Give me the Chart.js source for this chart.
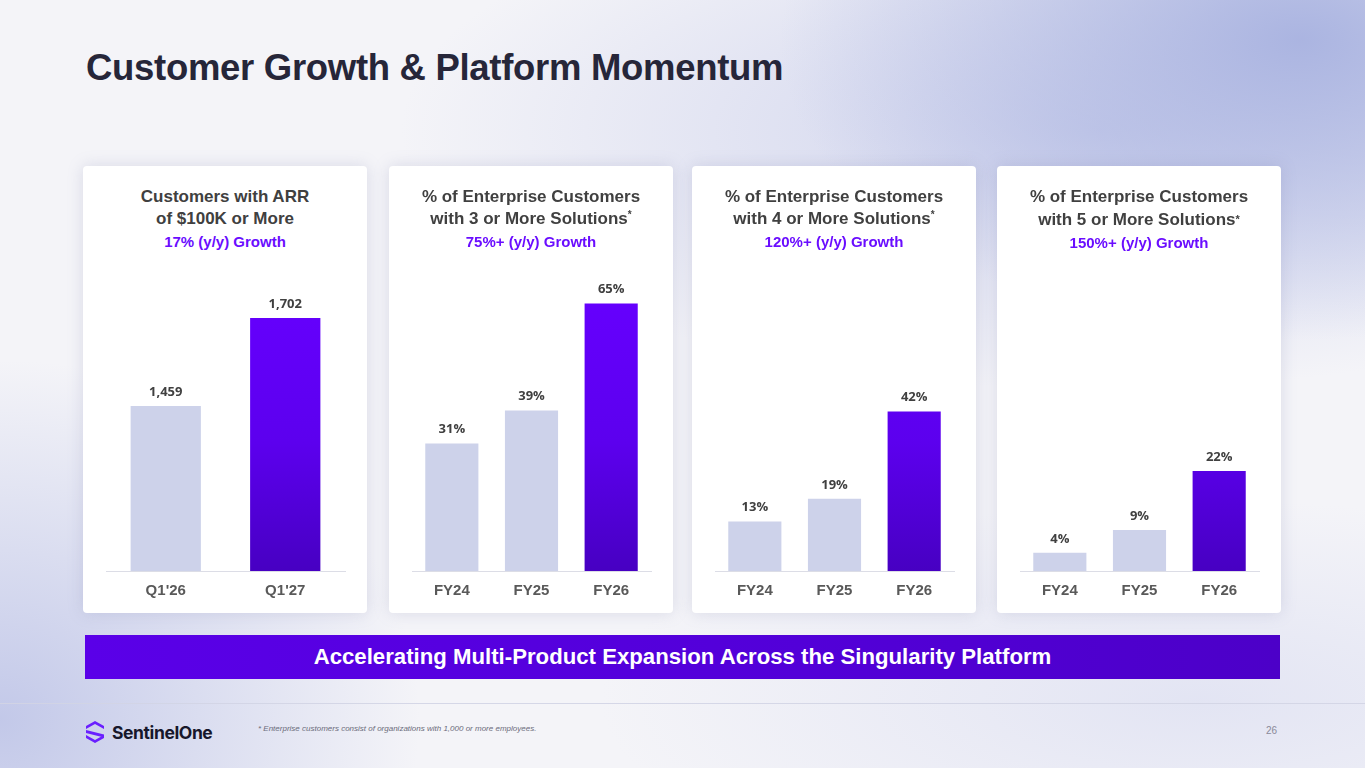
<!DOCTYPE html>
<html>
<head>
<meta charset="utf-8">
<script src="https://cdn.jsdelivr.net/npm/chart.js"></script>
<style>
  html, body { margin: 0; padding: 0; }
  body {
    width: 1365px; height: 768px; overflow: hidden; position: relative;
    font-family: "Liberation Sans", Arial, sans-serif;
    background:
      radial-gradient(ellipse 520px 300px at 1300px 40px, rgba(168,178,224,0.95), rgba(168,178,224,0) 100%),
      radial-gradient(ellipse 700px 260px at 1100px 130px, rgba(190,196,232,0.7), rgba(190,196,232,0) 100%),
      radial-gradient(ellipse 420px 360px at 0px 720px, rgba(192,198,232,0.95), rgba(192,198,232,0) 100%),
      radial-gradient(ellipse 600px 200px at 1200px 700px, rgba(215,218,240,0.6), rgba(215,218,240,0) 100%),
      #f4f4f8;
  }
  h1 {
    position: absolute; left: 86px; top: 47px; margin: 0;
    font-size: 36.5px; font-weight: bold; color: #262639; letter-spacing: -0.3px;
  }
  .card {
    position: absolute; top: 166px; width: 284px; height: 447px;
    background: #fff; border-radius: 4px;
    box-shadow: 0 0 16px rgba(120,124,170,0.22);
  }
  .card .ttl {
    position: absolute; left: 0; right: 0; top: 20px; text-align: center;
    font-size: 17px; font-weight: bold; color: #404040; line-height: 22px;
  }
  .card .ttl .g { font-size: 15px; color: #6a0dff; line-height: 23px; display: block; }
  .card .ttl sup { font-size: 10px; vertical-align: 6px; line-height: 0; }
  .card .ttl .st { font-size: 11px; vertical-align: 2px; }
  .card canvas { position: absolute; left: 0; top: 104px; }
  .banner {
    position: absolute; left: 85px; top: 635px; width: 1195px; height: 44px;
    background: linear-gradient(90deg, #5a00e8 0%, #5200d8 60%, #4c00c8 100%);
    color: #fff; font-weight: bold; font-size: 22.2px; line-height: 44px; text-align: center;
  }
  .rule { position: absolute; left: 0; right: 0; top: 703px; height: 1px; background: rgba(210,212,228,0.9); }
  .logo { position: absolute; left: 85px; top: 719px; height: 26px; display: flex; align-items: center; }
  .logo span { font-family: Inter, "Liberation Sans", sans-serif; font-weight: 700; font-size: 17.5px; color: #17172b; margin-left: 7px; letter-spacing: -0.4px; }
  .note { position: absolute; left: 258px; top: 724px; font-size: 8px; font-style: italic; color: #6b6b7a; }
  .page { position: absolute; left: 1266px; top: 725px; font-size: 10px; color: #8a8a99; }
</style>
</head>
<body>
<h1>Customer Growth &amp; Platform Momentum</h1>

<div class="card" style="left:83px">
  <div class="ttl">Customers with ARR<br>of $100K or More<span class="g">17% (y/y) Growth</span></div>
  <canvas id="c1" width="284" height="340"></canvas>
</div>
<div class="card" style="left:389px">
  <div class="ttl">% of Enterprise Customers<br>with 3 or More Solutions<sup>*</sup><span class="g">75%+ (y/y) Growth</span></div>
  <canvas id="c2" width="284" height="340"></canvas>
</div>
<div class="card" style="left:692px">
  <div class="ttl">% of Enterprise Customers<br>with 4 or More Solutions<sup>*</sup><span class="g">120%+ (y/y) Growth</span></div>
  <canvas id="c3" width="284" height="340"></canvas>
</div>
<div class="card" style="left:997px">
  <div class="ttl">% of Enterprise Customers<br>with 5 or More Solutions<span class="st">*</span><span class="g">150%+ (y/y) Growth</span></div>
  <canvas id="c4" width="284" height="340"></canvas>
</div>

<div class="banner">Accelerating Multi-Product Expansion Across the Singularity Platform</div>
<div class="rule"></div>
<div class="logo">
  <svg width="20" height="24" viewBox="0 0 20 24">
    <path d="M1 6 L10 1 L19 6 L19 9 L10 4 L1 9 Z" fill="#6a1fff"/>
    <path d="M1 10 L19 14.5 L19 17.5 L1 13 Z" fill="#6a1fff"/>
    <path d="M1 15 L10 20 L19 15 L19 18 L10 23 L1 18 Z" fill="#6a1fff"/>
  </svg>
  <span>SentinelOne</span>
</div>
<div class="note">* Enterprise customers consist of organizations with 1,000 or more employees.</div>
<div class="page">26</div>

<script>
// data
const arrCategories = ["Q1'26", "Q1'27"];
const arrCustomers = [1459, 1702];

const fyCategories = ["FY24", "FY25", "FY26"];
const pctThreePlus = [31, 39, 65];
const pctFourPlus = [13, 19, 42];
const pctFivePlus = [4, 9, 22];

const greyBar = "#cdd2ea";

function lastBarFill(c) {
  const n = c.dataset.data.length;
  if (c.dataIndex !== n - 1) return greyBar;
  const area = c.chart.chartArea;
  if (!area) return "#5a00e6";
  const g = c.chart.ctx.createLinearGradient(0, area.top, 0, area.bottom);
  g.addColorStop(0, "#6600ff");
  g.addColorStop(0.55, "#5c00ee");
  g.addColorStop(1, "#4700c2");
  return g;
}

// value labels above each bar
const valueLabels = {
  id: "valueLabels",
  afterDatasetsDraw(chart, args, opts) {
    const ctx = chart.ctx;
    const meta = chart.getDatasetMeta(0);
    const vals = chart.data.datasets[0].data;
    ctx.save();
    ctx.font = "bold 13px 'Open Sans', sans-serif";
    ctx.fillStyle = "#404040";
    ctx.textAlign = "center";
    ctx.textBaseline = "middle";
    meta.data.forEach((bar, i) => {
      ctx.fillText(opts.fmt(vals[i]), bar.x, bar.y - 14);
    });
    ctx.restore();
  }
};

function makeChart(id, labels, values, yMin, yMax, barPct, fmt) {
  new Chart(document.getElementById(id), {
    type: "bar",
    data: {
      labels: labels,
      datasets: [{
        data: values,
        backgroundColor: lastBarFill,
        borderWidth: 0,
        barPercentage: barPct,
        categoryPercentage: 1
      }]
    },
    options: {
      responsive: false,
      animation: false,
      layout: { padding: { left: 23, right: 22, top: 15, bottom: 5 } },
      plugins: {
        legend: { display: false },
        tooltip: { enabled: false },
        valueLabels: { fmt: fmt }
      },
      scales: {
        x: {
          grid: { display: false, drawTicks: false },
          border: { display: true, color: "#dcdde6", width: 1 },
          ticks: {
            padding: 11,
            color: "#595959",
            font: { family: "'Liberation Sans', Arial, sans-serif", size: 15, weight: "bold" }
          },
          afterFit(scale) { scale.height = 34; }
        },
        y: { display: false, min: yMin, max: yMax }
      }
    },
    plugins: [valueLabels]
  });
}

makeChart("c1", arrCategories, arrCustomers, 1003, 1793, 0.588, v => v.toLocaleString("en-US"));
makeChart("c2", fyCategories, pctThreePlus, 0, 69.5, 0.667, v => v + "%");
makeChart("c3", fyCategories, pctFourPlus, 0, 75.3, 0.667, v => v + "%");
makeChart("c4", fyCategories, pctFivePlus, 0, 62.9, 0.667, v => v + "%");
</script>
</body>
</html>
